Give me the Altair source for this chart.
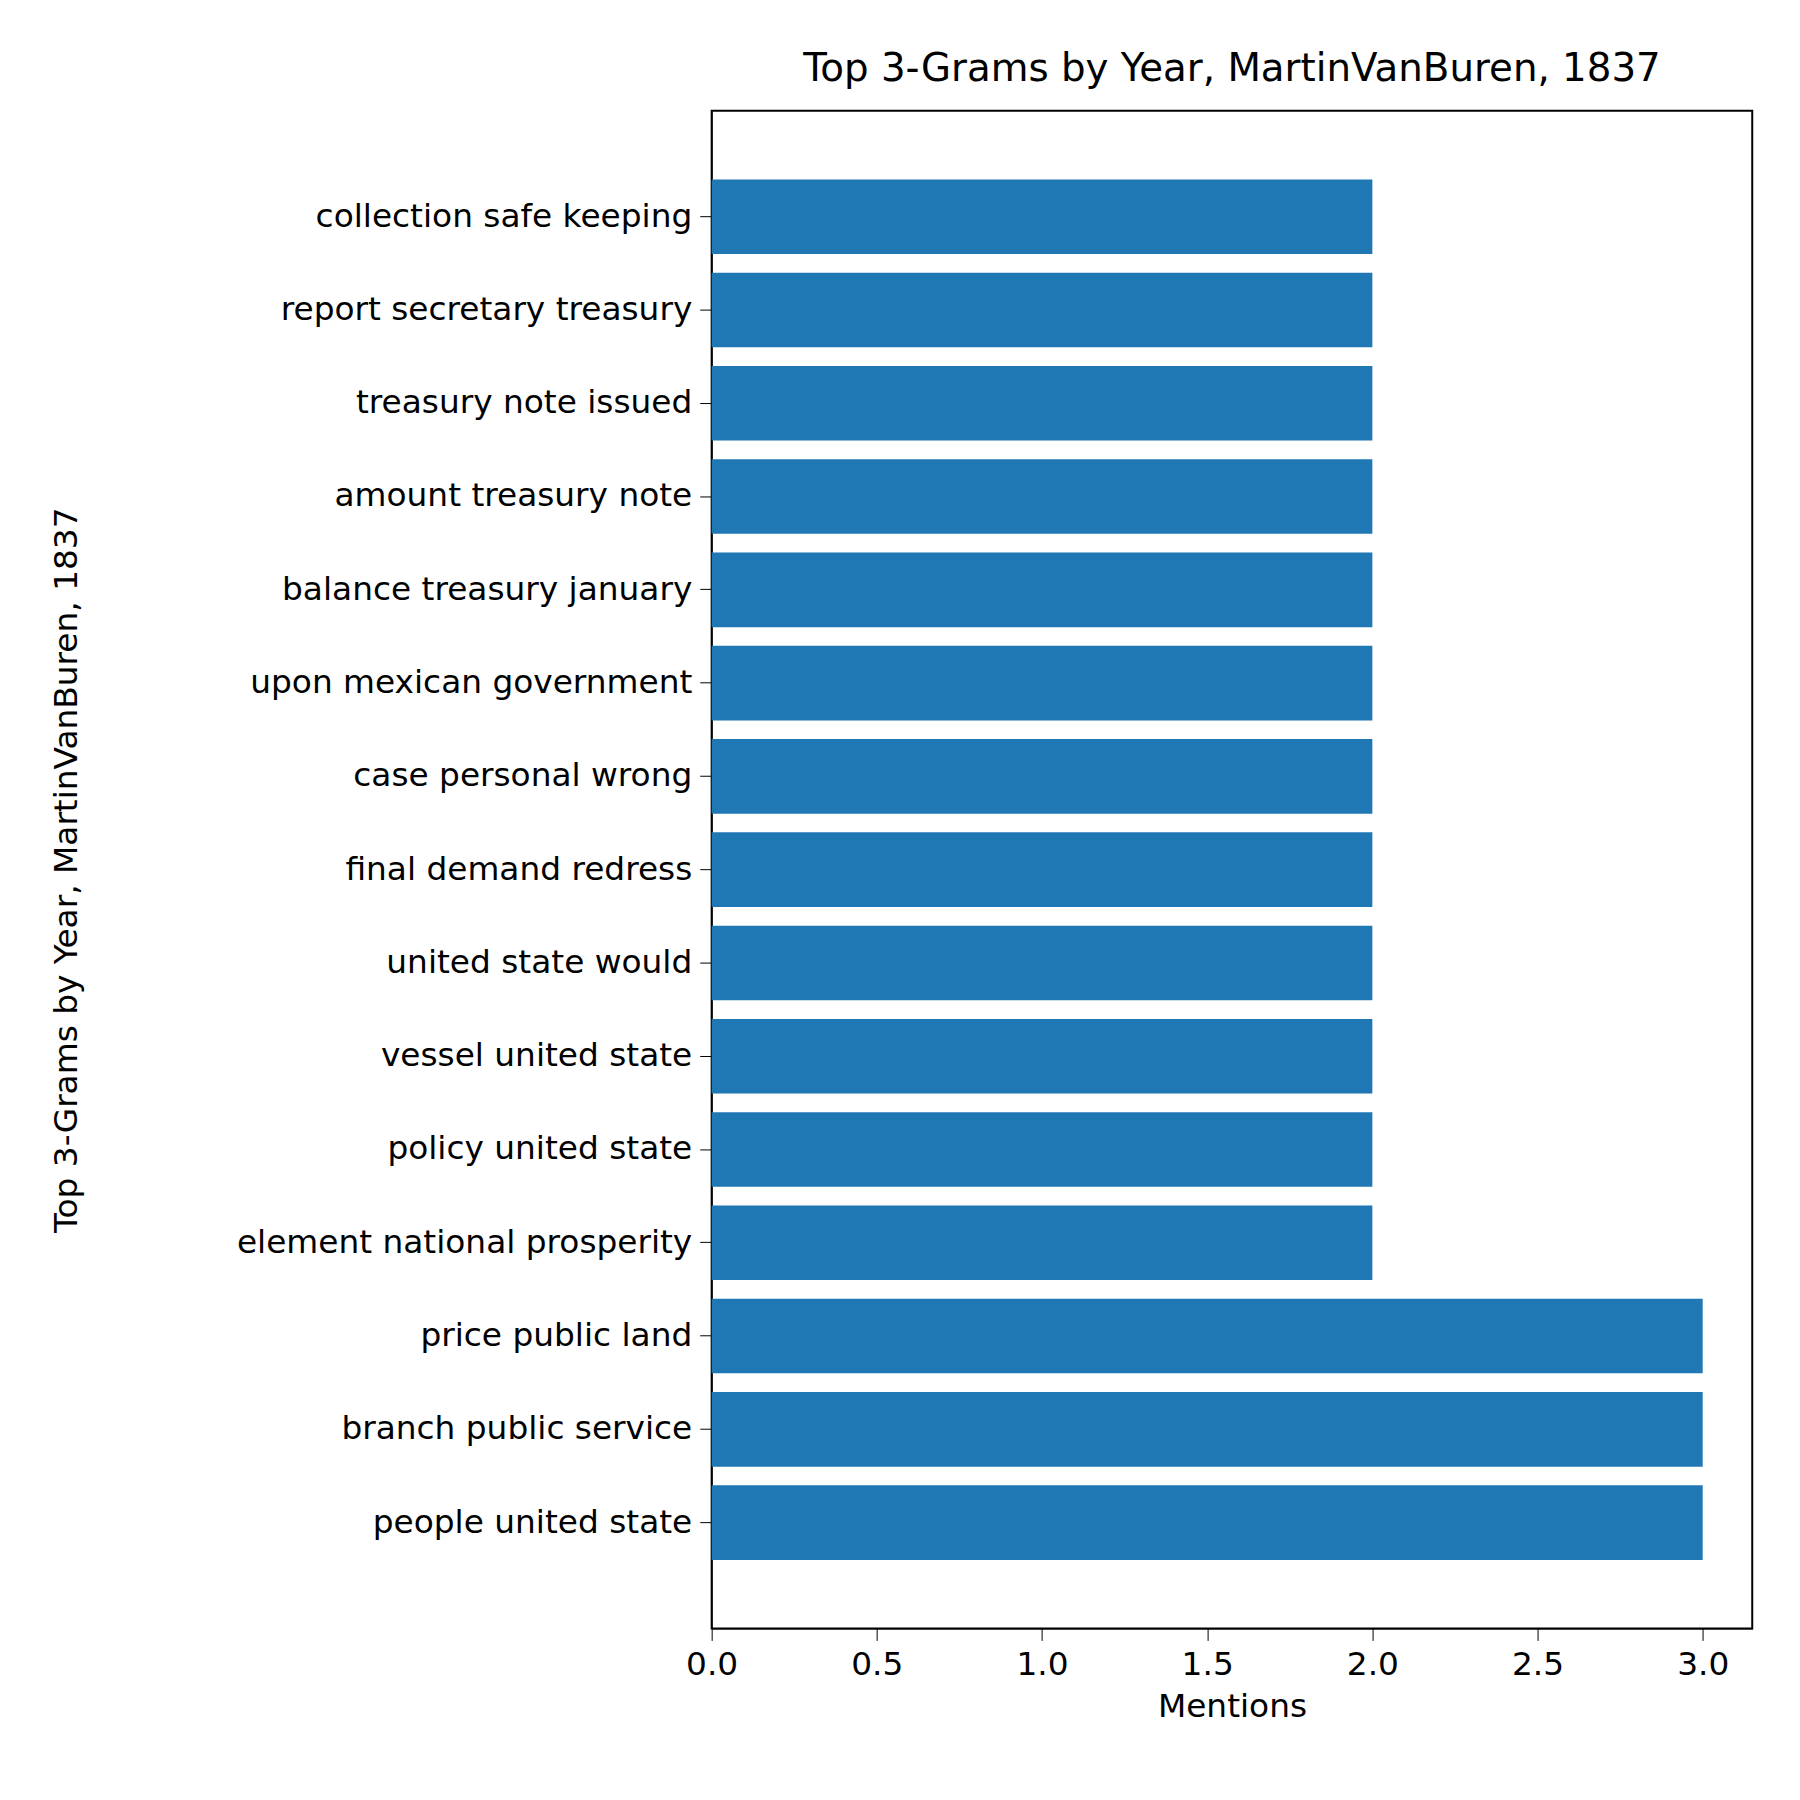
import altair as alt
import pandas as pd

ngrams = [
    "collection safe keeping", "report secretary treasury", "treasury note issued",
    "amount treasury note", "balance treasury january", "upon mexican government",
    "case personal wrong", "final demand redress", "united state would",
    "vessel united state", "policy united state", "element national prosperity",
    "price public land", "branch public service", "people united state",
]
mentions = [2, 2, 2, 2, 2, 2, 2, 2, 2, 2, 2, 2, 3, 3, 3]

df = pd.DataFrame({"ngram": ngrams, "mentions": mentions})
title = "Top 3-Grams by Year, MartinVanBuren, 1837"
font = "DejaVu Sans"
H = 1527

chart = alt.Chart(df).mark_bar(color="#1f77b4").encode(
    x=alt.X("mentions:Q", title="Mentions",
            scale=alt.Scale(domain=[0, 3.15], nice=False, zero=True),
            axis=alt.Axis(values=[0, 0.5, 1, 1.5, 2, 2.5, 3], format=".1f", grid=False,
                          labelFontSize=33, titleFontSize=33, tickSize=12,
                          labelColor="black", titleColor="black", tickColor="black",
                          domainColor="black", titleFontWeight="normal", labelFont=font,
                          titleFont=font, titlePadding=10, labelPadding=8,
                          labelFlush=False)),
    y=alt.Y("ngram:N", title=title, sort=ngrams,
            scale=alt.Scale(paddingInner=0.2, paddingOuter=0.735),
            axis=alt.Axis(labelFontSize=33, titleFontSize=33, tickSize=12,
                          labelColor="black", titleColor="black", tickColor="black",
                          domainColor="black", titleFontWeight="normal", labelFont=font,
                          titleFont=font, labelPadding=8,
                          titleX=-649, titleY=H / 2, titleAngle=270,
                          titleAlign="center", titleBaseline="middle",
                          labelLimit=1000)),
).properties(
    width=1047, height=H,
    title=alt.TitleParams(title, fontSize=39, font=font, fontWeight="normal",
                          anchor="middle", color="black", offset=22),
    autosize=alt.AutoSizeParams(type="none"),
    padding={"left": 708, "top": 98, "right": 40, "bottom": 150},
).configure_view(stroke="black", strokeWidth=2)

chart.save("out.html", embed_options={"renderer": "svg", "actions": False})
